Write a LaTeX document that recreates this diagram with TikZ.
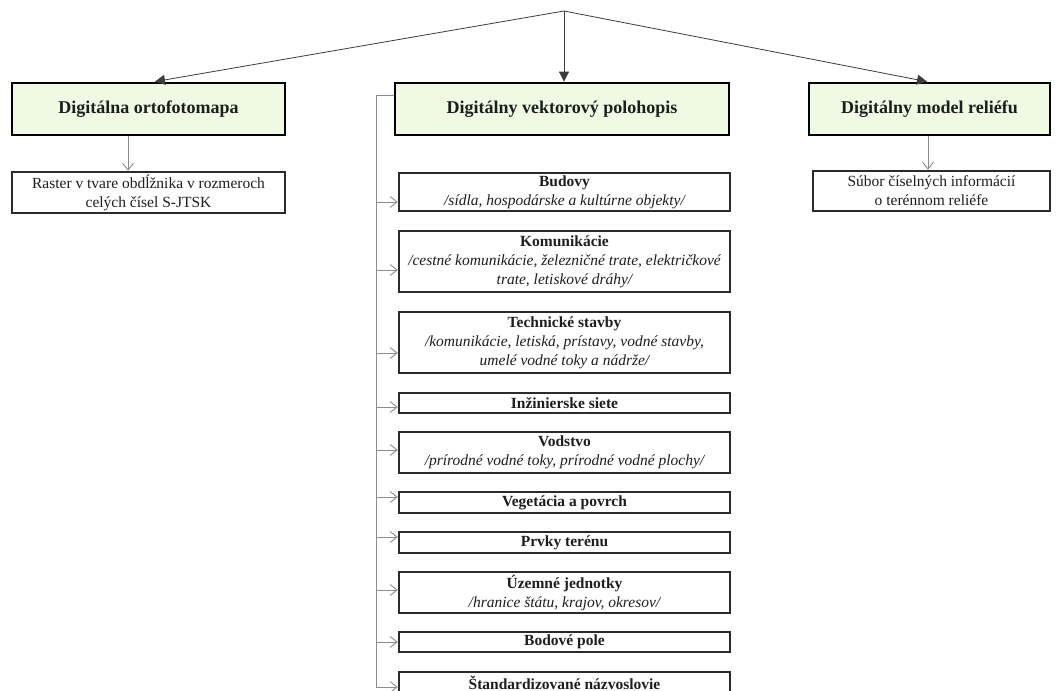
\documentclass[tikz,border=0pt]{standalone}
\usepackage{fontspec}
\setmainfont{Liberation Serif}
\usetikzlibrary{arrows.meta,positioning}
\definecolor{hdrfill}{HTML}{EFF9E4}
\definecolor{boxline}{HTML}{2B2B2B}
\definecolor{subarrow}{HTML}{8C8C8C}
\definecolor{mainarrow}{HTML}{3C3C3C}
\definecolor{txt}{HTML}{1E1E1E}
\tikzset{
  hdr/.style={draw=black,line width=2.8pt,fill=hdrfill,inner sep=0pt,align=center,
    text=txt,font=\fontsize{18}{21}\selectfont\bfseries},
  subbox/.style={draw=boxline,line width=2.4pt,fill=white,inner sep=0pt,align=center,
    text=txt,font=\fontsize{15.5}{19}\selectfont},
  mainarr/.style={draw=mainarrow,line width=0.8pt,-{Triangle[length=10pt,width=10pt]}},
  subarr/.style={draw=subarrow,line width=0.9pt,-{Straight Barb[length=7pt,width=11pt]}},
  spine/.style={draw=subarrow,line width=0.9pt},
}
\begin{document}
\begin{tikzpicture}[x=1pt,y=-1pt]
\useasboundingbox[fill=white] (0,0) rectangle (1058,691);
% top apex
\coordinate (apex) at (564,11);
% headers
\node[hdr,minimum width=273pt,minimum height=52pt] (hL) at (148.5,109) {Digitálna ortofotomapa};
\node[hdr,minimum width=334pt,minimum height=52pt] (hM) at (562,109) {Digitálny vektorový polohopis};
\node[hdr,minimum width=241pt,minimum height=52pt] (hR) at (929.5,109) {Digitálny model reliéfu};
% side boxes
\node[subbox,minimum width=273pt,minimum height=41pt] (sL) at (148.5,192.5) {Raster v tvare obdĺžnika v rozmeroch\\celých čísel S-JTSK};
\node[subbox,minimum width=237pt,minimum height=40pt] (sR) at (931.5,191) {Súbor číselných informácií\\o terénnom reliéfe};
% child boxes
\node[subbox,minimum width=331pt,minimum height=38pt] (c1) at (564.5,192) {\textbf{Budovy}\\\itshape /sídla, hospodárske a kultúrne objekty/};
\node[subbox,minimum width=331pt,minimum height=61pt] (c2) at (564.5,261.5) {\textbf{Komunikácie}\\\itshape /cestné komunikácie, železničné trate, električkové\\\itshape trate, letiskové dráhy/};
\node[subbox,minimum width=331pt,minimum height=61pt] (c3) at (564.5,342.5) {\textbf{Technické stavby}\\\itshape /komunikácie, letiská, prístavy, vodné stavby,\\\itshape umelé vodné toky a nádrže/};
\node[subbox,minimum width=331pt,minimum height=20pt] (c4) at (564.5,403) {\textbf{Inžinierske siete}};
\node[subbox,minimum width=331pt,minimum height=41pt] (c5) at (564.5,452.5) {\textbf{Vodstvo}\\\itshape /prírodné vodné toky, prírodné vodné plochy/};
\node[subbox,minimum width=331pt,minimum height=21pt] (c6) at (564.5,502.5) {\textbf{Vegetácia a povrch}};
\node[subbox,minimum width=331pt,minimum height=21pt] (c7) at (564.5,542.5) {\textbf{Prvky terénu}};
\node[subbox,minimum width=331pt,minimum height=41pt] (c8) at (564.5,592.5) {\textbf{Územné jednotky}\\\itshape /hranice štátu, krajov, okresov/};
\node[subbox,minimum width=331pt,minimum height=20pt] (c9) at (564.5,642) {\textbf{Bodové pole}};
\node[subbox,minimum width=331pt,minimum height=21pt] (c10) at (564.5,682.5) {\textbf{Štandardizované názvoslovie}};
% main arrows
\draw[mainarr] (apex) -- ([xshift=6.5pt]hL.north);
\draw[mainarr] (apex) -- (apex|-hM.north);
\draw[mainarr] (apex) -- ([xshift=-2.5pt]hR.north);
% side arrows
\draw[subarr] ([xshift=-20.5pt]hL.south) -- ([xshift=-20.5pt]hL.south|-sL.north);
\draw[subarr] ([xshift=-1.5pt]hR.south) -- ([xshift=-1.5pt]hR.south|-sR.north);
% spine
\coordinate (sptop) at (376,95);
\coordinate (spbot) at (376,687);
\draw[spine] ([yshift=14pt]hM.west) -- (sptop) -- (spbot);
\draw[subarr] (sptop|-0,202) -- (c1.west|-0,202);
\draw[subarr] (sptop|-0,270) -- (c2.west|-0,270);
\draw[subarr] (sptop|-0,353) -- (c3.west|-0,353);
\draw[subarr] (sptop|-0,407) -- (c4.west|-0,407);
\draw[subarr] (sptop|-0,450) -- (c5.west|-0,450);
\draw[subarr] (sptop|-0,497) -- (c6.west|-0,497);
\draw[subarr] (sptop|-0,537) -- (c7.west|-0,537);
\draw[subarr] (sptop|-0,590) -- (c8.west|-0,590);
\draw[subarr] (sptop|-0,642) -- (c9.west|-0,642);
\draw[subarr] (spbot) -- (c10.west|-spbot);
\end{tikzpicture}
\end{document}
